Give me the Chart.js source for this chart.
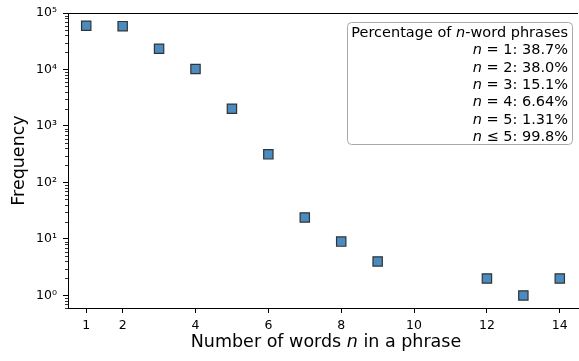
<!DOCTYPE html>
<html>
<head>
<meta charset="utf-8">
<script src="https://cdn.jsdelivr.net/npm/chart.js@4.4.1/dist/chart.umd.min.js"></script>
<style>
  html, body { margin: 0; padding: 0; background: #fff; }
  #wrap { width: 579px; height: 361px; }
</style>
</head>
<body>
<div id="wrap"><canvas id="freqChart" width="579" height="361"></canvas></div>
<script>
// data
const nWords = [1, 2, 3, 4, 5, 6, 7, 8, 9, 12, 13, 14];
const freq = [59600, 58500, 23300, 10200, 2020, 315, 24, 9, 4, 2, 1, 2];
const xTicks = [1, 2, 4, 6, 8, 10, 12, 14];
const yTicks = [1, 10, 100, 1000, 10000, 100000];
const yTickLabels = ['10\u2070', '10\u00b9', '10\u00b2', '10\u00b3', '10\u2074', '10\u2075'];
const pctRel = ['=', '=', '=', '=', '=', '\u2264'];
const pctN = ['1', '2', '3', '4', '5', '5'];
const pctVal = ['38.7%', '38.0%', '15.1%', '6.64%', '1.31%', '99.8%'];

const FONT = '"DejaVu Sans", sans-serif';

// draw a line of text made of [text, italic] runs; anchor 1 = right, 0.5 = centre
function drawRuns(ctx, runs, x, y, size, anchor) {
    let total = 0;
    runs.forEach(r => {
        ctx.font = (r[1] ? 'italic ' : '') + size + 'px ' + FONT;
        total += ctx.measureText(r[0]).width;
    });
    let cx = x - total * anchor;
    runs.forEach(r => {
        ctx.font = (r[1] ? 'italic ' : '') + size + 'px ' + FONT;
        ctx.fillText(r[0], cx, y);
        cx += ctx.measureText(r[0]).width;
    });
}

const extras = {
    id: 'extras',
    afterDraw(chart) {
        const ctx = chart.ctx;
        const area = chart.chartArea;
        const ys = chart.scales.y;
        ctx.save();
        // top spine
        ctx.strokeStyle = '#000';
        ctx.lineWidth = 1;
        ctx.beginPath();
        ctx.moveTo(area.left, area.top + 0.5);
        ctx.lineTo(area.right, area.top + 0.5);
        ctx.stroke();
        // minor log ticks
        ctx.lineWidth = 0.8;
        for (let e = -1; e < 5; e++) {
            for (let k = 2; k <= 9; k++) {
                const v = k * Math.pow(10, e);
                if (v < ys.min || v > ys.max) continue;
                const py = Math.round(ys.getPixelForValue(v)) + 0.5;
                ctx.beginPath();
                ctx.moveTo(area.left - 3, py);
                ctx.lineTo(area.left, py);
                ctx.stroke();
            }
        }
        // x axis title with italic n
        ctx.fillStyle = '#000';
        ctx.textBaseline = 'alphabetic';
        drawRuns(ctx, [['Number of words ', false], ['n', true], [' in a phrase', false]], 326, 347, 17.5, 0.5);
        // annotation box
        const bx = 347, by = 22, bw = 225, bh = 122;
        ctx.fillStyle = 'rgba(255,255,255,0.85)';
        ctx.strokeStyle = '#aaa';
        ctx.lineWidth = 1;
        ctx.beginPath();
        ctx.roundRect(bx + 0.5, by + 0.5, bw, bh, 4);
        ctx.fill();
        ctx.stroke();
        ctx.fillStyle = '#000';
        ctx.textBaseline = 'middle';
        const size = 14.5;
        const rx = 568;
        drawRuns(ctx, [['Percentage of ', false], ['n', true], ['-word phrases', false]], rx, 33, size, 1);
        for (let i = 0; i < pctVal.length; i++) {
            drawRuns(ctx, [['n', true], [' ' + pctRel[i] + ' ' + pctN[i] + ': ' + pctVal[i], false]], rx, 50.5 + i * 17.4, size, 1);
        }
        ctx.restore();
    }
};

const ctx = document.getElementById('freqChart').getContext('2d');
const chart = new Chart(ctx, {
    type: 'scatter',
    data: {
        datasets: [{
            data: nWords.map((n, i) => ({ x: n, y: freq[i] })),
            pointStyle: 'rect',
            pointRadius: 6.6,
            pointHoverRadius: 6.6,
            backgroundColor: '#4a8bc2',
            borderColor: '#333',
            borderWidth: 1.2,
            clip: false
        }]
    },
    options: {
        responsive: false,
        animation: false,
        layout: { autoPadding: false, padding: { top: 13, right: 1, left: 0, bottom: 0 } },
        plugins: { legend: { display: false }, tooltip: { enabled: false } },
        scales: {
            x: {
                type: 'linear',
                min: 0.5,
                max: 14.5,
                afterBuildTicks: s => { s.ticks = xTicks.map(v => ({ value: v })); },
                afterFit: s => { s.height = 53; s.paddingRight = 0; s.paddingLeft = 0; },
                grid: { drawOnChartArea: false, drawTicks: true, tickLength: 5, tickColor: '#000' },
                border: { display: true, color: '#000', width: 1 },
                ticks: { color: '#000', font: { family: FONT, size: 12.5 }, padding: 5, maxRotation: 0 },
                title: { display: false }
            },
            y: {
                type: 'logarithmic',
                min: 0.6,
                max: 100000,
                afterBuildTicks: s => { s.ticks = yTicks.map(v => ({ value: v })); },
                afterFit: s => { s.width = 68; s.paddingTop = 0; s.paddingBottom = 0; },
                grid: { drawOnChartArea: false, drawTicks: true, tickLength: 5, tickColor: '#000' },
                border: { display: true, color: '#000', width: 1 },
                ticks: {
                    color: '#000',
                    font: { family: FONT, size: 12.5 },
                    padding: 6,
                    callback: (v) => {
                        const i = yTicks.indexOf(v);
                        return i >= 0 ? yTickLabels[i] : '';
                    }
                },
                title: { display: true, text: 'Frequency', color: '#000', font: { family: FONT, size: 17.5 }, padding: { top: 8.5, bottom: 0 } }
            }
        }
    },
    plugins: [extras]
});
</script>
</body>
</html>
